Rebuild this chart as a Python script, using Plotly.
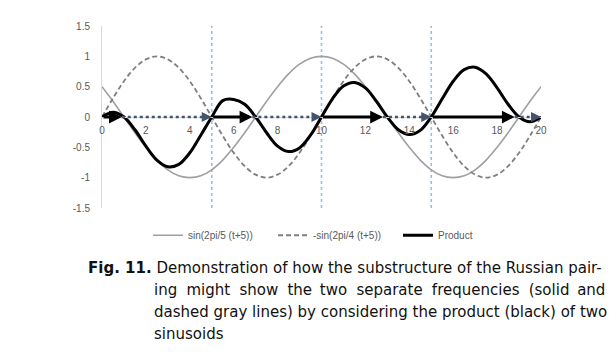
import plotly.graph_objects as go

# ---------------- data ----------------
t = [0, 0.5, 1, 1.5, 2, 2.5, 3, 3.5, 4, 4.5, 5, 5.5, 6, 6.5, 7, 7.5, 8, 8.5, 9, 9.5,
     10, 10.5, 11, 11.5, 12, 12.5, 13, 13.5, 14, 14.5, 15, 15.5, 16, 16.5, 17, 17.5,
     18, 18.5, 19, 19.5, 20]

solid_gray = [0.5, 0.26, 0, -0.26, -0.5, -0.71, -0.87, -0.97, -1, -0.97, -0.87, -0.71,
              -0.5, -0.26, 0, 0.26, 0.5, 0.71, 0.87, 0.97, 1, 0.97, 0.87, 0.71, 0.5,
              0.26, 0, -0.26, -0.5, -0.71, -0.87, -0.97, -1, -0.97, -0.87, -0.71, -0.5,
              -0.26, 0, 0.26, 0.5]

dashed_gray = [0, 0.31, 0.59, 0.81, 0.95, 1, 0.95, 0.81, 0.59, 0.31, 0, -0.31, -0.59,
               -0.81, -0.95, -1, -0.95, -0.81, -0.59, -0.31, 0, 0.31, 0.59, 0.81, 0.95,
               1, 0.95, 0.81, 0.59, 0.31, 0, -0.31, -0.59, -0.81, -0.95, -1, -0.95,
               -0.81, -0.59, -0.31, 0]

product = [0, 0.08, 0, -0.21, -0.48, -0.71, -0.82, -0.78, -0.59, -0.30, 0, 0.27, 0.29,
           0.21, 0, -0.26, -0.48, -0.57, -0.51, -0.30, 0, 0.30, 0.51, 0.57, 0.48, 0.26,
           0, -0.21, -0.29, -0.22, 0, 0.30, 0.59, 0.78, 0.82, 0.71, 0.48, 0.21, 0,
           -0.08, 0]

series_names = ["sin(2pi/5 (t+5))", "-sin(2pi/4 (t+5))", "Product"]

# arrow segments along y = 0 (start, end)
black_arrows = [(0, 0.9), (5, 6.85), (10, 12.8), (15, 18.8)]
dotted_arrows = [(0.9, 5), (6.85, 10), (12.8, 15), (18.8, 20)]

# vertical reference lines
vlines = [5, 10, 15]

x_ticks = [0, 2, 4, 6, 8, 10, 12, 14, 16, 18, 20]
y_ticks = [-1.5, -1, -0.5, 0, 0.5, 1, 1.5]
y_ticklabels = ["-1.5", "-1", "-0.5", "0", "0.5", "1", "1.5"]

caption_lines = [
    "Demonstration of how the substructure of the Russian pair-",
    "ing might show the two separate frequencies (solid and",
    "dashed gray lines) by considering the product (black) of two",
    "sinusoids",
]

# ---------------- figure ----------------
fig = go.Figure()

for v in vlines:
    fig.add_shape(type="line", x0=v, x1=v, y0=-1.5, y1=1.5, xref="x", yref="y",
                  line=dict(color="#93C0EC", width=1.6, dash="3px,3px"), layer="below")

fig.add_trace(go.Scatter(x=t, y=solid_gray, name=series_names[0], mode="lines",
                         line=dict(color="#A0A0A0", width=1.6, shape="spline")))
fig.add_trace(go.Scatter(x=t, y=dashed_gray, name=series_names[1], mode="lines",
                         line=dict(color="#7F7F7F", width=1.8, dash="5px,3px", shape="spline")))

# dotted arrow shafts
for s, e in dotted_arrows:
    fig.add_shape(type="line", x0=s, x1=e - 0.2, y0=0, y1=0, xref="x", yref="y",
                  line=dict(color="#44546A", width=2.5, dash="dot"), layer="above")
    fig.add_annotation(x=e, y=0, ax=-8, ay=0, xref="x", yref="y", text="",
                       showarrow=True, arrowhead=2, arrowsize=0.8, arrowwidth=2.5,
                       arrowcolor="#44546A")

fig.add_trace(go.Scatter(x=t, y=product, name=series_names[2], mode="lines",
                         line=dict(color="#000000", width=3, shape="spline")))

for s, e in black_arrows:
    fig.add_annotation(x=e, y=0, ax=s, ay=0, xref="x", yref="y", axref="x", ayref="y",
                       text="", showarrow=True, arrowhead=2, arrowsize=0.85,
                       arrowwidth=3, arrowcolor="#000000")

tick_font = dict(family="Liberation Sans, Arial, sans-serif", size=10, color="#595959")

fig.update_layout(
    width=616, height=352,
    margin=dict(l=102, r=75, t=26, b=144),
    paper_bgcolor="white", plot_bgcolor="white",
    showlegend=True,
    legend=dict(orientation="h", x=(148 - 102) / 439, xanchor="left", y=-0.07, yanchor="top",
                font=dict(family="Liberation Sans, Arial, sans-serif", size=10, color="#595959"),
                itemwidth=30, entrywidth=80, entrywidthmode="pixels", tracegroupgap=0),
    xaxis=dict(range=[0, 20], tickvals=x_ticks, showgrid=False, zeroline=False,
               showline=True, linecolor="#D9D9D9", linewidth=1,
               anchor="free", position=0.5, ticks="", tickfont=tick_font,
               ticklabelstandoff=4),
    yaxis=dict(range=[-1.5, 1.5], tickvals=y_ticks, ticktext=y_ticklabels,
               showgrid=False, zeroline=False, showline=True, linecolor="#D9D9D9",
               linewidth=1, ticks="", tickfont=tick_font, ticklabelstandoff=9),
)

# justified second caption line: widen the word gaps slightly
THIN, HAIR = "\u2009", "\u200a"
w2 = caption_lines[1].split(" ")
line2 = w2[0]
for k, w in enumerate(w2[1:]):
    line2 += " " + THIN + (HAIR if k % 4 != 3 else "") + w
caption_render = [caption_lines[0], line2, caption_lines[2], caption_lines[3]]

cap_font = dict(family="DejaVu Sans, Verdana, sans-serif", size=15, color="#111111")
cap_y = [268, 290, 312, 334]
fig.add_annotation(xref="paper", yref="paper", x=(86 - 102) / 439, y=1 - (cap_y[0] - 26) / 182,
                   xanchor="left", yanchor="middle", showarrow=False,
                   text="<b>Fig. 11.</b> " + caption_render[0], font=cap_font)
for i in range(1, 4):
    fig.add_annotation(xref="paper", yref="paper", x=(152 - 102) / 439,
                       y=1 - (cap_y[i] - 26) / 182, xanchor="left", yanchor="middle",
                       showarrow=False, text=caption_render[i], font=cap_font)

fig.write_html("out.html")
